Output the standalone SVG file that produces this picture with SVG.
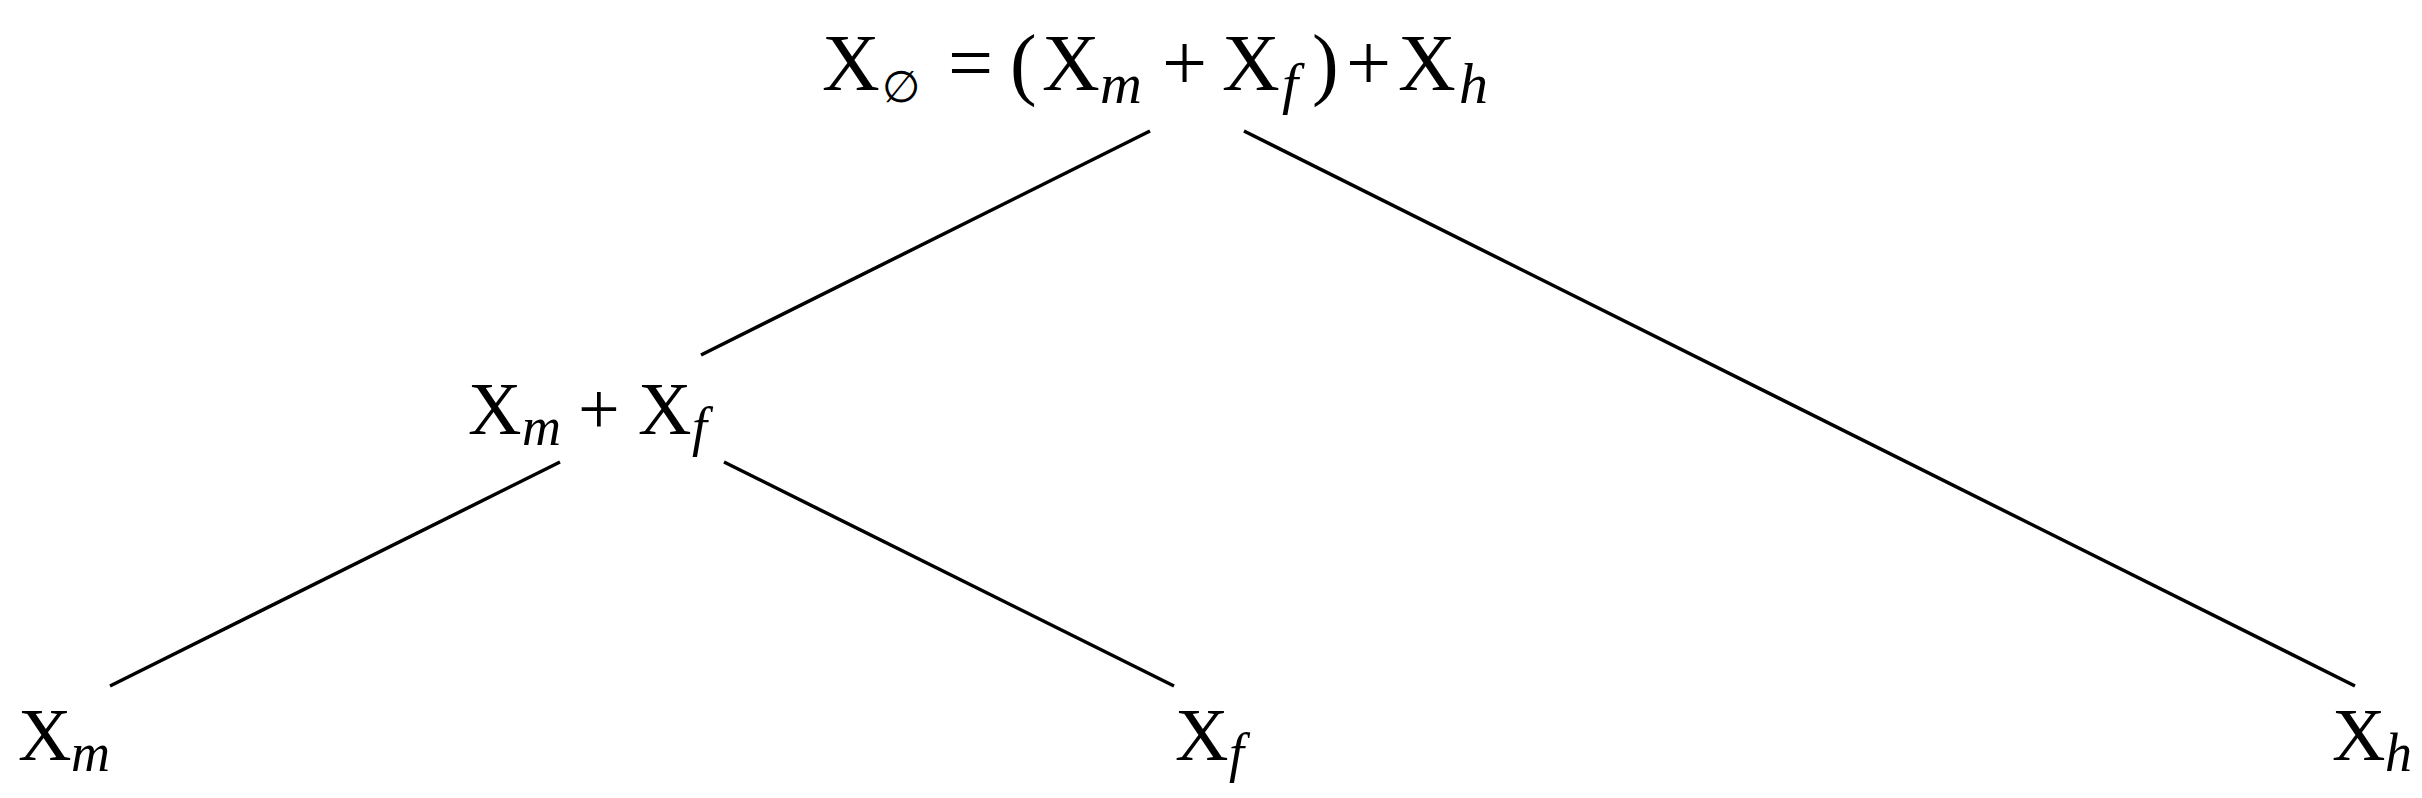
<svg xmlns="http://www.w3.org/2000/svg" width="2422" height="798" viewBox="0 0 2422 798">
<style>
.t{font-family:"Liberation Serif","DejaVu Serif",serif;font-size:74px;fill:#000}
.r{font-size:80px}
.s{font-style:italic;font-size:54px}
.r .s{font-size:58px}
.e{font-style:normal;font-family:"DejaVu Serif","Liberation Serif",serif;font-size:44px}
.c line{stroke:#000;stroke-width:3.5;stroke-linecap:butt}
</style>
<rect width="2422" height="798" fill="#fff"/>
<g class="c" id="connectors">
<line x1="1150" y1="131" x2="701" y2="355"/>
<line x1="1244" y1="131" x2="2355" y2="686"/>
<line x1="560" y1="462" x2="110" y2="686"/>
<line x1="724" y1="462" x2="1174" y2="686"/>
</g>
<g id="root"><text class="t r" y="90"><tspan x="822">X</tspan><tspan class="e" x="882" y="102">∅</tspan><tspan x="948" y="90">=</tspan><tspan x="1010">(</tspan><tspan x="1042">X</tspan><tspan class="s" x="1100" y="103">m</tspan><tspan x="1162" y="90">+</tspan><tspan x="1222">X</tspan><tspan class="s" x="1282" y="103">f</tspan><tspan x="1312" y="90">)</tspan><tspan x="1346">+</tspan><tspan x="1398">X</tspan><tspan class="s" x="1459" y="103">h</tspan></text></g>
<g id="mf"><text class="t" y="434"><tspan x="468">X</tspan><tspan class="s" x="522" y="445">m</tspan><tspan x="578" y="434">+</tspan><tspan x="638">X</tspan><tspan class="s" x="692" y="445">f</tspan></text></g>
<g id="xm"><text class="t" y="760"><tspan x="18">X</tspan><tspan class="s" x="71" y="771">m</tspan></text></g>
<g id="xf"><text class="t" y="760"><tspan x="1175">X</tspan><tspan class="s" x="1229" y="771">f</tspan></text></g>
<g id="xh"><text class="t" y="760"><tspan x="2332">X</tspan><tspan class="s" x="2385" y="771">h</tspan></text></g>
</svg>
